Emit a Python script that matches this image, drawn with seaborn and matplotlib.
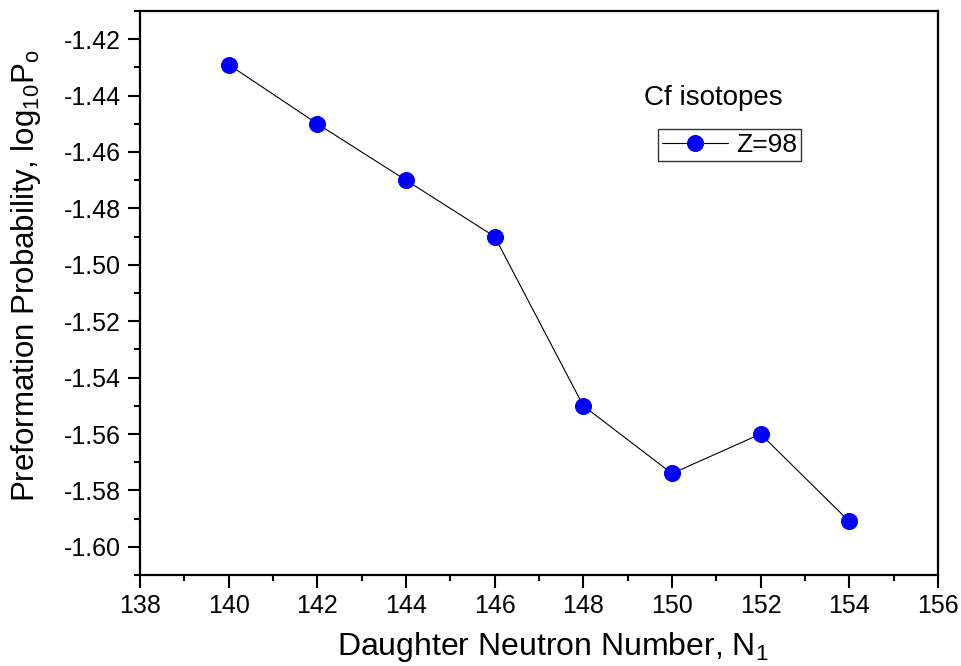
import matplotlib
matplotlib.use("Agg")
import matplotlib.pyplot as plt
from matplotlib.ticker import MultipleLocator, FormatStrFormatter
import pandas as pd
import seaborn as sns

# Daughter neutron number and preformation probability for Cf isotopes
neutron_number = [140, 142, 144, 146, 148, 150, 152, 154]
log_p0 = [-1.429, -1.450, -1.470, -1.490, -1.550, -1.574, -1.560, -1.591]
series_label = "Z=98"

sns.set_theme(style="white")
plt.rcParams["font.family"] = ["Liberation Sans", "DejaVu Sans"]
plt.rcParams["mathtext.fontset"] = "custom"
plt.rcParams["mathtext.rm"] = "Liberation Sans"
plt.rcParams["mathtext.it"] = "Liberation Sans"
plt.rcParams["axes.unicode_minus"] = False
plt.rcParams["text.color"] = "black"
plt.rcParams["axes.labelcolor"] = "black"

df = pd.DataFrame({"N": neutron_number, "logP": log_p0})

fig = plt.figure(figsize=(9.61, 6.66), dpi=100)
ax = fig.add_axes([0.1457, 0.1366, 0.8303, 0.8469])

sns.lineplot(data=df, x="N", y="logP", ax=ax, color="black", linewidth=0.8,
             marker="o", markersize=11.5, markerfacecolor="#0000ff",
             markeredgecolor="#0000ff", label=series_label)

ax.set_xlim(138, 156)
ax.set_ylim(-1.61, -1.41)
ax.xaxis.set_major_locator(MultipleLocator(2))
ax.xaxis.set_minor_locator(MultipleLocator(1))
ax.yaxis.set_major_locator(MultipleLocator(0.02))
ax.yaxis.set_minor_locator(MultipleLocator(0.01))
ax.yaxis.set_major_formatter(FormatStrFormatter("%.2f"))

ax.tick_params(which="major", direction="out", length=9, width=1.5,
               labelsize=18, color="black", labelcolor="black",
               bottom=True, left=True, top=False, right=False, pad=5)
ax.tick_params(which="minor", direction="out", length=4.5, width=1.5,
               color="black", bottom=True, left=True, top=False, right=False)

for side in ["left", "right", "top", "bottom"]:
    ax.spines[side].set_visible(True)
    ax.spines[side].set_color("black")
    ax.spines[side].set_linewidth(1.6)

ax.set_xlabel("Daughter Neutron Number, N$_{1}$", fontsize=23)
ax.set_ylabel("Preformation Probability, log$_{10}$P$_{o}$", fontsize=22.5)
ax.xaxis.set_label_coords(0.5175, -0.097)
ax.yaxis.set_label_coords(-0.122, 0.53)

ax.text(0.718, 0.845, "Cf isotopes", transform=ax.transAxes, fontsize=20,
        ha="center", va="center", color="black")

leg = ax.legend(loc="upper left", bbox_to_anchor=(0.649, 0.791), fontsize=19,
                frameon=True, fancybox=False, edgecolor="black",
                handlelength=2.5, handletextpad=0.3, borderpad=0.15,
                borderaxespad=0)
leg.get_frame().set_linewidth(1.0)
for t in leg.get_texts():
    t.set_color("black")

fig.savefig("out.png", dpi=100, facecolor="white")
